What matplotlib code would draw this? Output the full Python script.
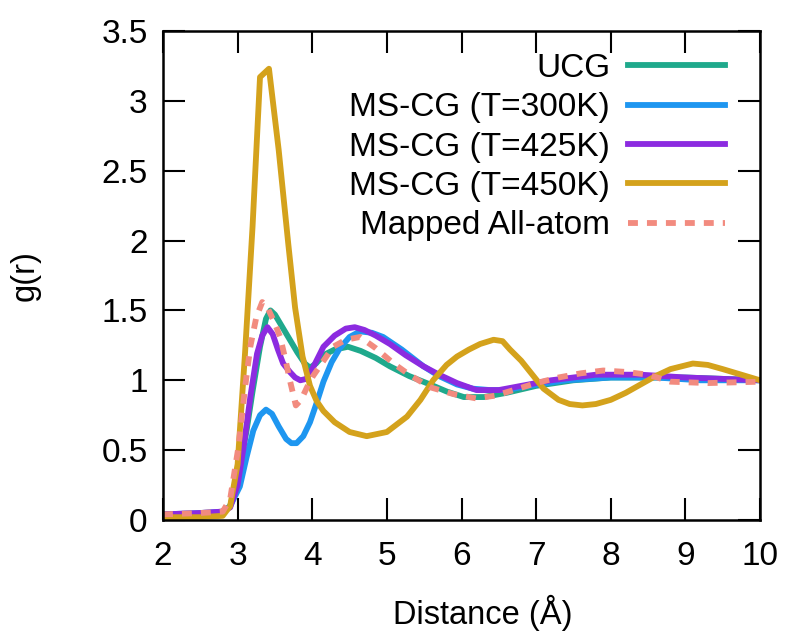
import matplotlib
matplotlib.use("Agg")
import matplotlib.pyplot as plt

plt.rcParams['font.family'] = ['Liberation Sans', 'DejaVu Sans']

# UCG
x_ucg = [2.0, 2.5, 2.8, 2.9, 3.0, 3.12, 3.2, 3.3, 3.38, 3.44, 3.5, 3.6, 3.7, 3.8, 3.9, 3.97,
         4.05, 4.15, 4.3, 4.48, 4.65, 4.85, 5.04, 5.3, 5.58, 5.8, 6.03, 6.3, 6.6, 7.0, 7.5,
         8.0, 8.5, 9.0, 9.5, 10.0]
g_ucg = [0.03, 0.04, 0.05, 0.1, 0.3, 0.64, 0.92, 1.24, 1.44, 1.5, 1.47, 1.38, 1.29, 1.2, 1.12, 1.09,
         1.12, 1.18, 1.22, 1.24, 1.21, 1.16, 1.10, 1.03, 0.97, 0.92, 0.88, 0.88, 0.91, 0.96, 1.0,
         1.02, 1.02, 1.02, 1.01, 1.0]

# MS-CG 300K
x_300 = [2.0, 2.5, 2.8, 2.9, 3.03, 3.12, 3.21, 3.3, 3.38, 3.46, 3.55, 3.65, 3.72, 3.79, 3.88, 3.97,
         4.06, 4.15, 4.26, 4.37, 4.5, 4.64, 4.8, 4.95, 5.2, 5.49, 5.7, 5.94, 6.15, 6.38, 6.6, 6.9,
         7.4, 8.0, 8.6, 9.2, 10.0]
g_300 = [0.04, 0.05, 0.06, 0.1, 0.24, 0.45, 0.64, 0.75, 0.79, 0.76, 0.67, 0.58, 0.55, 0.55, 0.6, 0.7,
         0.84, 0.99, 1.13, 1.23, 1.31, 1.35, 1.34, 1.31, 1.22, 1.10, 1.03, 0.97, 0.94, 0.93, 0.93, 0.96,
         1.0, 1.02, 1.02, 1.0, 1.0]

# MS-CG 425K
x_425 = [2.0, 2.5, 2.8, 2.9, 3.0, 3.08, 3.17, 3.26, 3.33, 3.4, 3.47, 3.54, 3.61, 3.7, 3.77, 3.84,
         3.92, 4.0, 4.15, 4.3, 4.45, 4.57, 4.7, 4.85, 5.04, 5.25, 5.49, 5.7, 5.94, 6.2, 6.5, 6.8,
         7.2, 7.8, 8.4, 9.0, 9.5, 10.0]
g_425 = [0.04, 0.05, 0.06, 0.09, 0.25, 0.52, 0.88, 1.19, 1.32, 1.38, 1.33, 1.22, 1.12, 1.06, 1.02, 1.0,
         1.01, 1.08, 1.24, 1.32, 1.37, 1.38, 1.36, 1.32, 1.26, 1.18, 1.10, 1.04, 0.98, 0.93, 0.93, 0.96,
         1.0, 1.04, 1.04, 1.02, 1.01, 1.0]

# MS-CG 450K
x_450 = [2.0, 2.5, 2.8, 2.9, 3.0, 3.1, 3.2, 3.3, 3.42, 3.55, 3.68, 3.77, 3.87, 3.97, 4.06, 4.15,
         4.3, 4.5, 4.73, 5.0, 5.27, 5.45, 5.62, 5.8, 5.94, 6.1, 6.25, 6.43, 6.55, 6.65, 6.8, 6.95,
         7.1, 7.3, 7.45, 7.62, 7.8, 8.0, 8.2, 8.4, 8.6, 8.8, 9.1, 9.3, 9.5, 9.75, 10.0]
g_450 = [0.02, 0.02, 0.03, 0.1, 0.4, 1.2, 2.1, 3.17, 3.23, 2.65, 1.97, 1.52, 1.17, 0.96, 0.85, 0.78,
         0.7, 0.63, 0.60, 0.63, 0.74, 0.86, 1.0, 1.11, 1.17, 1.22, 1.26, 1.29, 1.28, 1.22, 1.14, 1.04,
         0.94, 0.86, 0.83, 0.82, 0.83, 0.86, 0.91, 0.97, 1.03, 1.08, 1.12, 1.11, 1.08, 1.04, 1.0]

# Mapped all-atom
x_aa = [2.0, 2.5, 2.8, 2.9, 3.01, 3.1, 3.17, 3.25, 3.33, 3.4, 3.48, 3.57, 3.64, 3.7, 3.78, 3.85,
        3.93, 4.01, 4.1, 4.28, 4.45, 4.64, 4.85, 5.09, 5.3, 5.58, 5.9, 6.2, 6.45, 6.7, 7.0, 7.3,
        7.6, 7.9, 8.2, 8.5, 8.8, 9.3, 10.0]
g_aa = [0.04, 0.05, 0.06, 0.15, 0.52, 0.95, 1.24, 1.45, 1.56, 1.52, 1.43, 1.31, 1.15, 1.0, 0.82, 0.86,
        0.95, 1.03, 1.10, 1.24, 1.29, 1.31, 1.23, 1.12, 1.04, 0.95, 0.9, 0.87, 0.89, 0.93, 0.98, 1.02,
        1.05, 1.07, 1.06, 1.04, 0.99, 0.98, 0.99]

labels = ["UCG", "MS-CG (T=300K)", "MS-CG (T=425K)", "MS-CG (T=450K)", "Mapped All-atom"]
colors = ["#1fa98c", "#1e96f0", "#8c2be0", "#d4a21c", "#f28b7f"]
xticks = [2, 3, 4, 5, 6, 7, 8, 9, 10]
yticks = [0, 0.5, 1, 1.5, 2, 2.5, 3, 3.5]
ytick_labels = ["0", "0.5", "1", "1.5", "2", "2.5", "3", "3.5"]

fig = plt.figure(figsize=(7.88, 6.37), dpi=100)
ax = fig.add_axes([163/788, 117/637, (760-163)/788, (520-31)/637])

lw = 4.2
series = [(x_ucg, g_ucg), (x_300, g_300), (x_425, g_425), (x_450, g_450)]
for (xs, ys), lab, c in zip(series, labels[:4], colors[:4]):
    ax.plot(xs, ys, color=c, lw=lw, label=lab, solid_joinstyle='round')
ax.plot(x_aa, g_aa, color=colors[4], lw=lw, ls=(0, (1.7, 1.55)), label=labels[4])

ax.set_xlim(2, 10)
ax.set_ylim(0, 3.5)
ax.set_xticks(xticks)
ax.set_xticklabels([str(t) for t in xticks])
ax.set_yticks(yticks)
ax.set_yticklabels(ytick_labels)
ax.tick_params(direction='in', length=16, width=1.5, top=True, right=True, labelsize=24)
ax.tick_params(axis='x', pad=15)
ax.tick_params(axis='y', pad=11)
for s in ax.spines.values():
    s.set_linewidth(1.8)

ax.set_xlabel("Distance (Å)", fontsize=23.5)
ax.xaxis.set_label_coords((483 - 163) / 597, -0.153)
ax.set_ylabel("g(r)", fontsize=23.5, labelpad=44)

leg = ax.legend(loc='upper right', bbox_to_anchor=(0.9414, 0.955), frameon=False,
                markerfirst=False, fontsize=24, handlelength=2.9, handletextpad=0.55,
                labelspacing=0.25, borderpad=0, borderaxespad=0)

fig.savefig("out.png", dpi=100)
